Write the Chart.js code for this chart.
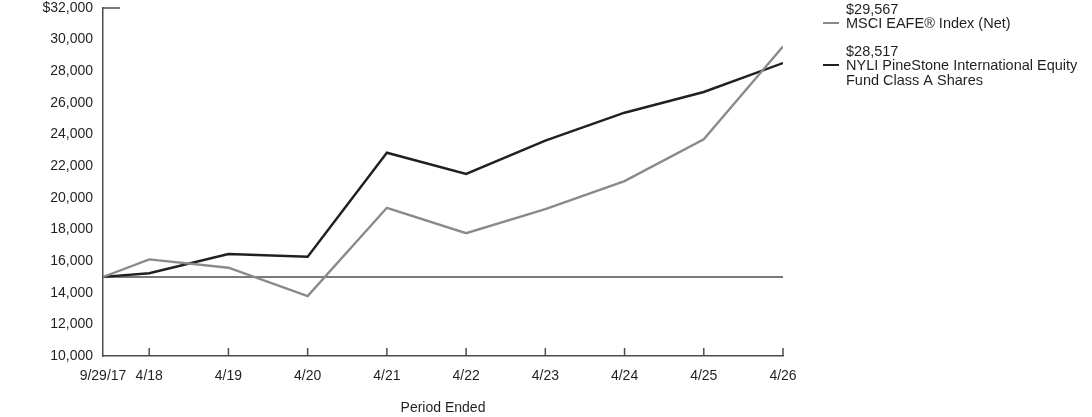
<!DOCTYPE html>
<html>
<head>
<meta charset="utf-8">
<script src="https://cdn.jsdelivr.net/npm/chart.js@4.4.1/dist/chart.umd.min.js"></script>
<style>
    html, body { margin: 0; padding: 0; background: #fff; }
    #wrap { width: 1092px; height: 417px; position: relative; }
</style>
</head>
<body>
<div id="wrap"><canvas id="growthChart"></canvas></div>
<script>
// Months since 9/29/17 for each period end
const periodMonths = [0, 7, 19, 31, 43, 55, 67, 79, 91, 103];
const periodLabels = ['9/29/17', '4/18', '4/19', '4/20', '4/21', '4/22', '4/23', '4/24', '4/25', '4/26'];

const indexValues = [15000, 16110, 15580, 13790, 19370, 17760, 19290, 21060, 23700, 29567];
const fundValues = [15000, 15230, 16450, 16280, 22850, 21510, 23620, 25380, 26690, 28517];

const seriesNames = ['MSCI EAFE\u00AE Index (Net)', 'NYLI PineStone International Equity|Fund Class A Shares'];
const endingValues = ['$29,567', '$28,517'];
const seriesColors = ['#8a8a8a', '#231f20'];

const yTicks = [10000, 12000, 14000, 16000, 18000, 20000, 22000, 24000, 26000, 28000, 30000, 32000];
const baseline = 15000;

const FONT = "'Liberation Sans', Arial, sans-serif";
const axisColor = '#4d4d4d';

function toPoints(values) {
    return values.map((v, i) => ({ x: periodMonths[i], y: v }));
}

// Baseline, inward ticks and legend
const extras = {
    id: 'extras',
    beforeDatasetsDraw(chart) {
        const { ctx, chartArea, scales } = chart;
        const yb = scales.y.getPixelForValue(baseline);
        ctx.save();
        ctx.strokeStyle = axisColor;
        ctx.lineWidth = 1.5;
        ctx.beginPath();
        ctx.moveTo(chartArea.left, yb);
        ctx.lineTo(scales.x.getPixelForValue(periodMonths[periodMonths.length - 1]), yb);
        ctx.stroke();
        ctx.restore();
    },
    afterDraw(chart) {
        const { ctx, chartArea, scales } = chart;
        ctx.save();
        ctx.strokeStyle = axisColor;
        ctx.lineWidth = 1.5;
        // x ticks pointing up
        periodMonths.forEach((m, i) => {
            if (i === 0) return;
            const x = scales.x.getPixelForValue(m);
            ctx.beginPath();
            ctx.moveTo(x, chartArea.bottom);
            ctx.lineTo(x, chartArea.bottom - 8);
            ctx.stroke();
        });
        // top y tick pointing right
        const yt = scales.y.getPixelForValue(yTicks[yTicks.length - 1]);
        ctx.beginPath();
        ctx.moveTo(chartArea.left, yt);
        ctx.lineTo(chartArea.left + 17, yt);
        ctx.stroke();

        // legend
        const lx = chartArea.right + 40;
        const rows = [16, 58];
        ctx.font = '14.5px ' + FONT;
        ctx.fillStyle = '#231f20';
        ctx.textBaseline = 'middle';
        rows.forEach((top, i) => {
            ctx.fillText(endingValues[i], lx + 23, top - 6);
            ctx.strokeStyle = seriesColors[i];
            ctx.lineWidth = 2;
            ctx.beginPath();
            ctx.moveTo(lx, top + 7);
            ctx.lineTo(lx + 16, top + 7);
            ctx.stroke();
            const lines = seriesNames[i].split('|');
            lines.forEach((t, j) => {
                ctx.fillText(t, lx + 23, top + 8 + j * 15);
            });
        });
        ctx.restore();
    }
};

new Chart(document.getElementById('growthChart'), {
    type: 'line',
    data: {
        datasets: [
            {
                label: 'MSCI EAFE Index (Net)',
                data: toPoints(indexValues),
                borderColor: seriesColors[0],
                borderWidth: 2.4,
                pointRadius: 0,
                tension: 0
            },
            {
                label: 'NYLI PineStone International Equity Fund Class A Shares',
                data: toPoints(fundValues),
                borderColor: seriesColors[1],
                borderWidth: 2.4,
                pointRadius: 0,
                tension: 0
            }
        ]
    },
    options: {
        responsive: true,
        maintainAspectRatio: false,
        animation: false,
        layout: { padding: { top: 8, right: 309, left: 0, bottom: 0 } },
        plugins: {
            legend: { display: false },
            tooltip: { enabled: false }
        },
        scales: {
            x: {
                type: 'linear',
                min: periodMonths[0],
                max: periodMonths[periodMonths.length - 1],
                afterBuildTicks: scale => {
                    scale.ticks = periodMonths.map(v => ({ value: v }));
                },
                afterFit: scale => { scale.height = 61; },
                grid: { display: false, drawTicks: false },
                border: { display: true, color: axisColor, width: 1.5 },
                ticks: {
                    autoSkip: false,
                    maxRotation: 0,
                    padding: 12,
                    color: '#231f20',
                    font: { family: FONT, size: 14 },
                    callback: value => periodLabels[periodMonths.indexOf(value)]
                },
                title: {
                    display: true,
                    text: 'Period Ended',
                    color: '#231f20',
                    font: { family: FONT, size: 14 },
                    padding: { top: 14, bottom: 0 }
                }
            },
            y: {
                min: yTicks[0],
                max: yTicks[yTicks.length - 1],
                afterBuildTicks: scale => {
                    scale.ticks = yTicks.map(v => ({ value: v }));
                },
                afterFit: scale => {
                    scale.width = 103;
                    scale.paddingTop = 0;
                    scale.paddingBottom = 0;
                },
                grid: { display: false, drawTicks: false },
                border: { display: true, color: axisColor, width: 1.5 },
                ticks: {
                    padding: 10,
                    color: '#231f20',
                    font: { family: FONT, size: 14 },
                    callback: value => (value === yTicks[yTicks.length - 1] ? '$' : '') + value.toLocaleString('en-US')
                }
            }
        }
    },
    plugins: [extras]
});
</script>
</body>
</html>
